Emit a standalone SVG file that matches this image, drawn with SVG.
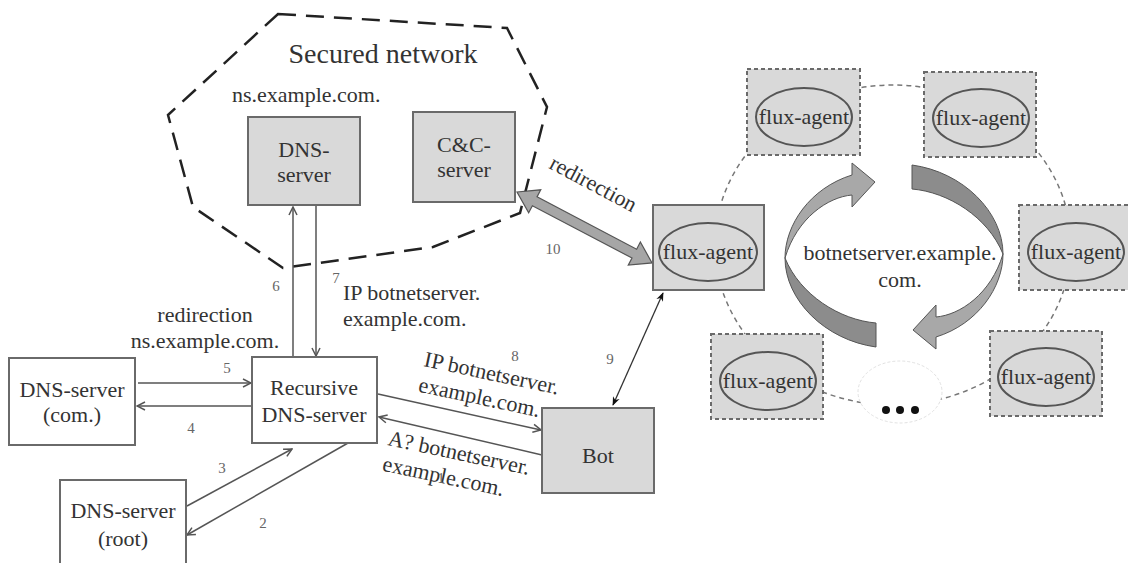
<svg xmlns="http://www.w3.org/2000/svg" width="1128" height="563" viewBox="0 0 1128 563">
  <style>
    text { font-family: "Liberation Serif", "Times New Roman", serif; fill: #333; }
    .lbl { font-size: 22px; }
    .mid { text-anchor: middle; }
    .num { font-size: 15px; fill: #666; text-anchor: middle; }
    .box { fill: #fff; stroke: #6a6a6a; stroke-width: 2; }
    .gbox { fill: #d9d9d9; stroke: #6a6a6a; stroke-width: 2; }
    .dbox { fill: #d9d9d9; stroke: #6a6a6a; stroke-width: 2; stroke-dasharray: 4 3; }
    .agent { fill: #d9d9d9; stroke: #555; stroke-width: 2; }
    .wire { fill: none; stroke: #555; stroke-width: 1.5; }
    .ring { fill: none; stroke: #777; stroke-width: 1.5; stroke-dasharray: 5 4; }
  </style>
  <defs>
    <marker id="open" viewBox="0 0 10 10" refX="9" refY="5" markerWidth="10" markerHeight="10" markerUnits="userSpaceOnUse" orient="auto-start-reverse">
      <path d="M1,1 L9,5 L1,9" fill="none" stroke="#555" stroke-width="1.5"/>
    </marker>
    <marker id="solid" viewBox="0 0 10 10" refX="9" refY="5" markerWidth="9" markerHeight="9" markerUnits="userSpaceOnUse" orient="auto-start-reverse">
      <path d="M0,1 L10,5 L0,9 L3,5 Z" fill="#111"/>
    </marker>
    <!-- one half of the rotating pair; the other half is this rotated 180 degrees -->
    <g id="halfArrow" stroke="#555" stroke-width="1">
      <path d="M785,258 C785,300 825,340 876,347 L876,323 C840,320 800,295 785,258 Z" fill="#8c8c8c"/>
      <path d="M852,175 L852,163 L875,182 L852,207 L852,195 C828,197 797,218 785,258 C785,225 810,188 852,175 Z" fill="#a8a8a8"/>
    </g>
  </defs>

  <!-- secured network boundary -->
  <g id="secured-network">
    <polygon points="278,14 507,28 547,107 520,213 433,247 283,268 193,207 168,115" fill="none" stroke="#222" stroke-width="2.5" stroke-dasharray="18 10"/>
    <text x="383" y="63" class="mid" style="font-size:28px">Secured network</text>
    <text x="232" y="102" class="lbl">ns.example.com.</text>
  </g>

  <!-- flux ring -->
  <g id="flux-ring">
    <ellipse cx="893" cy="245" rx="178" ry="160" class="ring"/>
    <use href="#halfArrow"/>
    <use href="#halfArrow" transform="rotate(180 894 256)"/>
    <text x="900" y="260" class="lbl mid">botnetserver.example.</text>
    <text x="900" y="287" class="lbl mid">com.</text>
  </g>

  <!-- connectors -->
  <g id="connectors">
    <line x1="293" y1="357" x2="293" y2="207" class="wire" marker-end="url(#open)"/>
    <line x1="316" y1="205" x2="316" y2="356" class="wire" marker-end="url(#open)"/>
    <line x1="138" y1="383" x2="251" y2="383" class="wire" marker-end="url(#open)"/>
    <line x1="251" y1="406" x2="137" y2="406" class="wire" marker-end="url(#open)"/>
    <line x1="187" y1="506" x2="292" y2="449" class="wire" marker-end="url(#open)"/>
    <line x1="348" y1="443" x2="187" y2="535" class="wire" marker-end="url(#open)"/>
    <line x1="378" y1="394" x2="541" y2="430" class="wire" marker-end="url(#open)"/>
    <line x1="542" y1="455" x2="379" y2="417" class="wire" marker-end="url(#open)"/>
    <line x1="613" y1="405" x2="663" y2="293" stroke="#333" stroke-width="1.3" marker-start="url(#solid)" marker-end="url(#solid)"/>
    <polygon points="0,0 20,-13 20,-5 132.5,-5 132.5,-13 152.5,0 132.5,13 132.5,5 20,5 20,13" transform="translate(517,192) rotate(27.7)" fill="#a6a6a6" stroke="#555" stroke-width="1.2"/>

    <text x="590" y="190" class="lbl mid" transform="rotate(28 590 190)">redirection</text>
    <text x="205" y="322" class="lbl mid">redirection</text>
    <text x="205" y="348" class="lbl mid">ns.example.com.</text>
    <text x="343" y="300" class="lbl">IP botnetserver.</text>
    <text x="343" y="326" class="lbl">example.com.</text>
    <text class="lbl" transform="translate(423 366) rotate(12)"><tspan x="0" y="0">IP botnetserver.</tspan><tspan x="0" y="26">example.com.</tspan></text>
    <text class="lbl" transform="translate(387 445) rotate(12)"><tspan x="0" y="0">A? botnetserver.</tspan><tspan x="0" y="26">example.com.</tspan></text>

    <text x="441" y="483" class="num">1</text>
    <text x="263" y="528" class="num">2</text>
    <text x="222" y="473" class="num">3</text>
    <text x="191" y="433" class="num">4</text>
    <text x="227" y="373" class="num">5</text>
    <text x="276" y="291" class="num">6</text>
    <text x="336" y="283" class="num">7</text>
    <text x="515" y="361" class="num">8</text>
    <text x="610" y="364" class="num">9</text>
    <text x="553" y="254" class="num">10</text>
  </g>

  <g id="dns-server-ns">
    <rect x="248" y="117" width="112" height="88" class="gbox"/>
    <text x="304" y="157" class="lbl mid">DNS-</text>
    <text x="304" y="182" class="lbl mid">server</text>
  </g>

  <g id="cc-server">
    <rect x="413" y="112" width="102" height="90" class="gbox"/>
    <text x="464" y="152" class="lbl mid">C&amp;C-</text>
    <text x="464" y="177" class="lbl mid">server</text>
  </g>

  <g id="recursive-dns">
    <rect x="252" y="357" width="125" height="86" class="box"/>
    <text x="314" y="395" class="lbl mid">Recursive</text>
    <text x="314" y="422" class="lbl mid">DNS-server</text>
  </g>

  <g id="dns-com">
    <rect x="9" y="358" width="126" height="87" class="box"/>
    <text x="72" y="397" class="lbl mid">DNS-server</text>
    <text x="72" y="422" class="lbl mid">(com.)</text>
  </g>

  <g id="dns-root">
    <rect x="60" y="480" width="126" height="100" class="box"/>
    <text x="123" y="518" class="lbl mid">DNS-server</text>
    <text x="123" y="546" class="lbl mid">(root)</text>
  </g>

  <g id="bot">
    <rect x="542" y="408" width="112" height="85" class="gbox"/>
    <text x="598" y="463" class="lbl mid">Bot</text>
  </g>

  <g id="flux-agent-main">
    <rect x="653" y="205" width="111" height="85" class="gbox"/>
    <ellipse cx="708" cy="252" rx="49" ry="29" class="agent"/>
    <text x="708" y="259" class="lbl mid">flux-agent</text>
  </g>

  <g id="flux-agent-top-left">
    <rect x="747" y="69" width="113" height="86" class="dbox"/>
    <ellipse cx="804" cy="117" rx="48" ry="29" class="agent"/>
    <text x="804" y="124" class="lbl mid">flux-agent</text>
  </g>

  <g id="flux-agent-top-right">
    <rect x="924" y="72" width="112" height="85" class="dbox"/>
    <ellipse cx="981" cy="118" rx="48" ry="29" class="agent"/>
    <text x="981" y="125" class="lbl mid">flux-agent</text>
  </g>

  <g id="flux-agent-right">
    <rect x="1019" y="205" width="112" height="85" class="dbox"/>
    <ellipse cx="1076" cy="252" rx="48" ry="29" class="agent"/>
    <text x="1076" y="259" class="lbl mid">flux-agent</text>
  </g>

  <g id="flux-agent-bottom-right">
    <rect x="990" y="331" width="112" height="85" class="dbox"/>
    <ellipse cx="1046" cy="377" rx="48" ry="29" class="agent"/>
    <text x="1046" y="384" class="lbl mid">flux-agent</text>
  </g>

  <g id="flux-agent-bottom-left">
    <rect x="711" y="334" width="112" height="85" class="dbox"/>
    <ellipse cx="768" cy="381" rx="48" ry="29" class="agent"/>
    <text x="768" y="388" class="lbl mid">flux-agent</text>
  </g>

  <g id="more-agents">
    <ellipse cx="900" cy="392" rx="42" ry="31" fill="#fff" stroke="#e2e2e2" stroke-width="1" stroke-dasharray="3 2"/>
    <circle cx="886" cy="410" r="4" fill="#111"/>
    <circle cx="900" cy="410" r="4" fill="#111"/>
    <circle cx="915" cy="410" r="4" fill="#111"/>
  </g>
</svg>
